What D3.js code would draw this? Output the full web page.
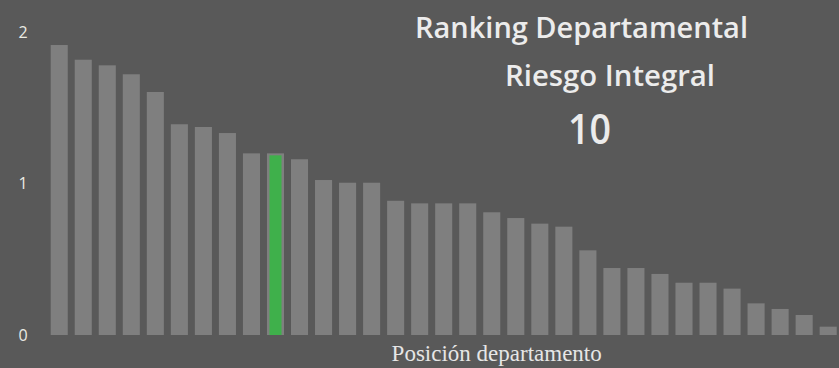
<!DOCTYPE html>
<html>
<head>
<meta charset="utf-8">
<script src="https://cdn.jsdelivr.net/npm/d3@7"></script>
<style>
  html, body { margin: 0; padding: 0; background: #595959; }
  svg { display: block; }
</style>
</head>
<body>
<svg id="chart" width="839" height="368"></svg>
<script>
// Departmental ranking: composite risk index, sorted descending
const positions = d3.range(1, 34);
const riskValues = [
  1.914, 1.817, 1.780, 1.721, 1.604, 1.391, 1.373, 1.333, 1.199, 1.199,
  1.160, 1.023, 1.005, 1.005, 0.886, 0.869, 0.869, 0.869, 0.810, 0.772,
  0.735, 0.715, 0.559, 0.442, 0.442, 0.403, 0.345, 0.345, 0.306, 0.209,
  0.172, 0.132, 0.055
];
const highlightPosition = 10;
const yTicks = [0, 1, 2];
const titleLines = ["Ranking Departamental", "Riesgo Integral"];
const xAxisTitle = "Posición departamento";

const svg = d3.select("#chart");
const W = 839, H = 368;

svg.append("rect").attr("width", W).attr("height", H).attr("fill", "#595959");

const x = d3.scaleBand()
  .domain(positions)
  .range([47.2, 840.2])
  .paddingInner(0.29)
  .paddingOuter(0.145);

const y = d3.scaleLinear().domain([0, 2]).range([335, 32]);

// bars
const bars = svg.append("g");
bars.selectAll("rect.bar")
  .data(positions)
  .join("rect")
  .attr("class", "bar")
  .attr("x", d => x(d))
  .attr("width", x.bandwidth())
  .attr("y", d => y(riskValues[d - 1]))
  .attr("height", d => y(0) - y(riskValues[d - 1]))
  .attr("fill", "#7f7f7f");

// highlighted department: green fill inside the grey outline
const inset = 2.5;
bars.selectAll("rect.hl")
  .data([highlightPosition])
  .join("rect")
  .attr("class", "hl")
  .attr("x", d => x(d) + inset)
  .attr("width", x.bandwidth() - 2 * inset)
  .attr("y", d => y(riskValues[d - 1]) + 2)
  .attr("height", d => y(0) - y(riskValues[d - 1]) - 2)
  .attr("fill", "#3fb04b");

// y axis tick labels
svg.append("g").selectAll("text")
  .data(yTicks)
  .join("text")
  .attr("x", 23)
  .attr("y", d => y(d))
  .attr("dy", "0.36em")
  .attr("text-anchor", "middle")
  .attr("font-family", "'Open Sans', Lato, sans-serif")
  .attr("font-size", 16)
  .attr("fill", "#ebebe4")
  .text(d => d);

// x axis title
svg.append("text")
  .attr("x", 496.7)
  .attr("y", 361)
  .attr("text-anchor", "middle")
  .attr("font-family", "'Liberation Serif', 'Times New Roman', serif")
  .attr("font-size", 23)
  .attr("fill", "#e6e6e6")
  .text(xAxisTitle);

// chart title block
const titleFont = "'Open Sans', Lato, sans-serif";
svg.append("text")
  .attr("x", 581.5).attr("y", 38.3)
  .attr("text-anchor", "middle")
  .attr("font-family", titleFont)
  .attr("font-weight", 600)
  .attr("font-size", 29)
  .attr("textLength", 333)
  .attr("lengthAdjust", "spacingAndGlyphs")
  .attr("fill", "#ececec")
  .text(titleLines[0]);

svg.append("text")
  .attr("x", 610).attr("y", 86)
  .attr("text-anchor", "middle")
  .attr("font-family", titleFont)
  .attr("font-weight", 600)
  .attr("font-size", 29)
  .attr("textLength", 210)
  .attr("lengthAdjust", "spacingAndGlyphs")
  .attr("fill", "#ececec")
  .text(titleLines[1]);

svg.append("text")
  .attr("x", 589.5).attr("y", 144)
  .attr("text-anchor", "middle")
  .attr("font-family", titleFont)
  .attr("font-weight", 600)
  .attr("font-size", 42)
  .attr("textLength", 43)
  .attr("lengthAdjust", "spacingAndGlyphs")
  .attr("fill", "#ececec")
  .text(highlightPosition);
</script>
</body>
</html>
